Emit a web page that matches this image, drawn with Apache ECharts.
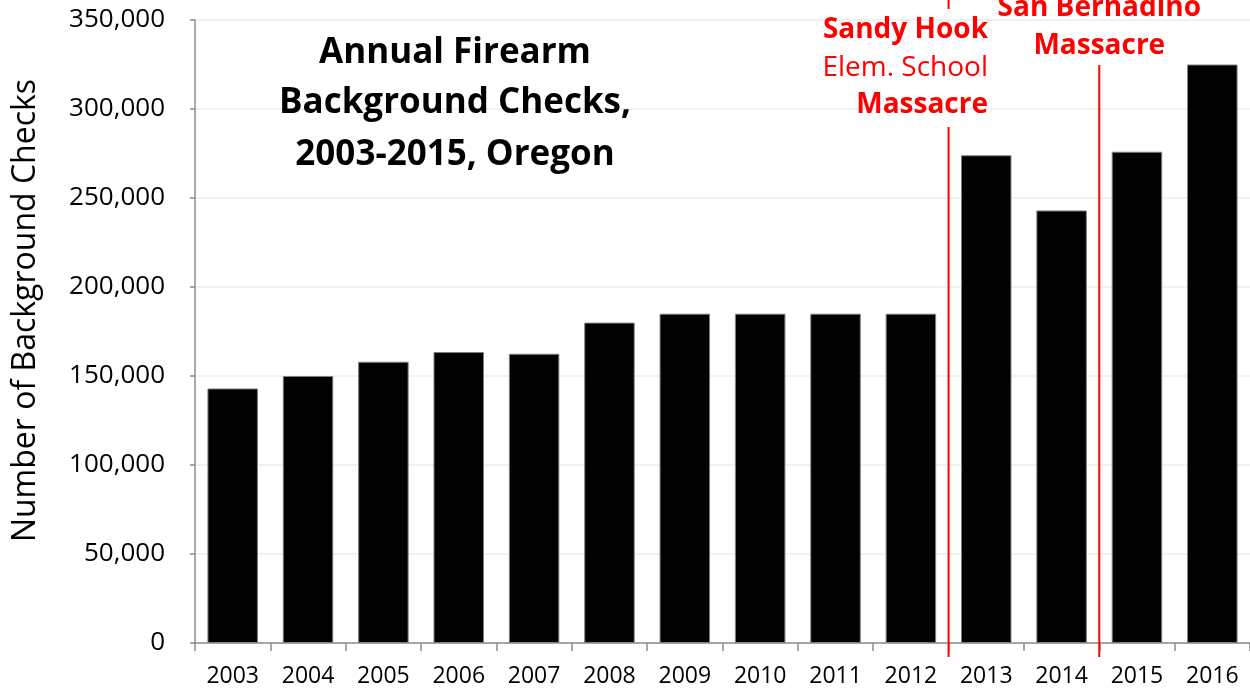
<!DOCTYPE html>
<html lang="en">
<head>
  <meta charset="UTF-8" />
  <title>Annual Firearm Background Checks, Oregon</title>
  <style>
    body { margin: 0; background: #fff; }
    #chart { width: 1250px; height: 698px; }
  </style>
  <script src="https://cdn.jsdelivr.net/npm/echarts@6/dist/echarts.min.js"></script>
</head>
<body>
  <div id="chart"></div>
  <script>
    var years = ['2003', '2004', '2005', '2006', '2007', '2008', '2009',
                 '2010', '2011', '2012', '2013', '2014', '2015', '2016'];
    var checks = [143000, 150000, 158000, 163500, 162500, 180000, 185000,
                  185000, 185000, 185000, 274000, 243000, 276000, 325000];
    var yTicks = [0, 50000, 100000, 150000, 200000, 250000, 300000, 350000];

    var font = "'Open Sans', sans-serif";
    var red = '#ff0000';

    var myChart = echarts.init(document.getElementById('chart'));

    var option = {
      animation: false,
      grid: { left: 195, right: 0, top: 20, bottom: 55, outerBoundsMode: 'none', containLabel: false },
      xAxis: {
        type: 'category',
        data: years,
        axisLine: { lineStyle: { color: '#8c8c8c', width: 1.5 } },
        axisTick: { show: true, length: 8, lineStyle: { color: '#8c8c8c', width: 1.5 } },
        axisLabel: { color: '#000', fontSize: 23, fontFamily: font, margin: 22 }
      },
      yAxis: {
        type: 'value',
        min: yTicks[0],
        max: yTicks[yTicks.length - 1],
        interval: 50000,
        name: 'Number of Background Checks',
        nameLocation: 'middle',
        nameGap: 153,
        nameTextStyle: { color: '#000', fontSize: 32, fontFamily: font, padding: [0, 0, 0, 42] },
        axisLine: { show: true, lineStyle: { color: '#8c8c8c', width: 1.5 } },
        axisTick: { show: true, length: 5, lineStyle: { color: '#8c8c8c', width: 1.5 } },
        axisLabel: {
          color: '#000', fontSize: 26, fontFamily: font, margin: 30,
          formatter: function (v) { return v.toLocaleString('en-US'); }
        },
        splitLine: { lineStyle: { color: '#ececec', width: 1.5 } }
      },
      series: [{
        type: 'bar',
        data: checks,
        barCategoryGap: '33%',
        itemStyle: { color: '#000', borderColor: '#7f7f7f', borderWidth: 1 }
      }]
    };
    myChart.setOption(option);

    // event lines sit on category boundaries
    function boundary(a, b) {
      var pa = myChart.convertToPixel({ xAxisIndex: 0 }, a);
      var pb = myChart.convertToPixel({ xAxisIndex: 0 }, b);
      return (pa + pb) / 2;
    }
    var y0 = myChart.convertToPixel({ yAxisIndex: 0 }, 0);
    var xSandy = boundary('2012', '2013');
    var xSanB = boundary('2014', '2015');

    function vline(x, y1, y2) {
      return { type: 'line', shape: { x1: x, y1: y1, x2: x, y2: y2 },
               style: { stroke: red, lineWidth: 2 }, z: 10 };
    }
    function label(txt, x, y, align, bold) {
      return { type: 'text', x: x, y: y, z: 11,
               style: { text: txt, fill: red, align: align, verticalAlign: 'middle',
                        font: (bold ? 'bold ' : '') + '28px ' + font } };
    }
    function title(txt, y) {
      return { type: 'text', x: 455, y: y, z: 11,
               style: { text: txt, fill: '#000', align: 'center', verticalAlign: 'middle',
                        font: 'bold 35px ' + font } };
    }

    myChart.setOption({
      graphic: [
        title('Annual Firearm', 53),
        title('Background Checks,', 103),
        title('2003-2015, Oregon', 155),
        vline(xSandy, 0, 9),
        vline(xSandy, 127, y0 + 14),
        vline(xSanB, 65, y0 + 14),
        label('Sandy Hook', 988, 30, 'right', true),
        label('Elem. School', 988, 68, 'right', false),
        label('Massacre', 988, 105, 'right', true),
        label('San Bernadino', xSanB, 8, 'center', true),
        label('Massacre', xSanB, 46, 'center', true)
      ]
    });
  </script>
</body>
</html>
